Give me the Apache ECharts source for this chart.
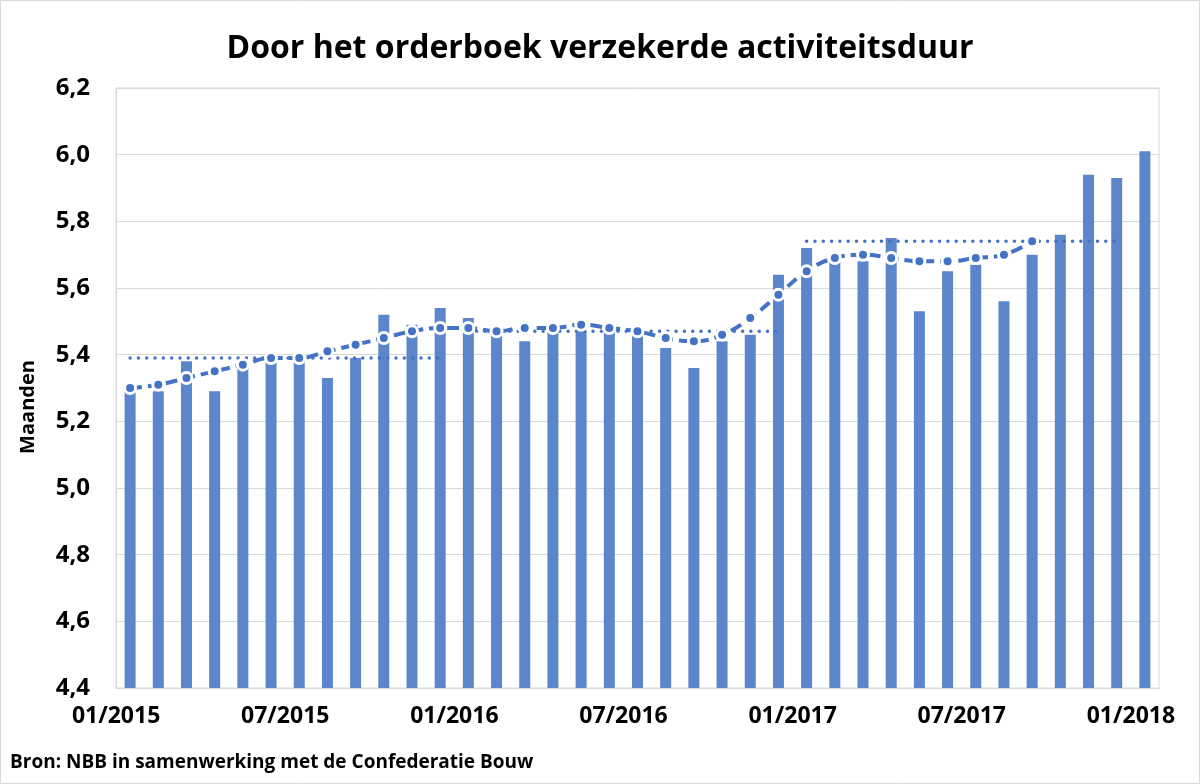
<!DOCTYPE html>
<html>
<head>
<meta charset="utf-8">
<title>Door het orderboek verzekerde activiteitsduur</title>
<script src="https://cdn.jsdelivr.net/npm/echarts@6/dist/echarts.min.js"></script>
<style>
  html, body { margin: 0; padding: 0; background: #fff; }
  #chart { width: 1200px; height: 784px; }
</style>
</head>
<body>
<div id="chart"></div>
<script>
// maanden 01/2015 - 01/2018
var months = [
  '01/2015', '02/2015', '03/2015', '04/2015', '05/2015', '06/2015',
  '07/2015', '08/2015', '09/2015', '10/2015', '11/2015', '12/2015',
  '01/2016', '02/2016', '03/2016', '04/2016', '05/2016', '06/2016',
  '07/2016', '08/2016', '09/2016', '10/2016', '11/2016', '12/2016',
  '01/2017', '02/2017', '03/2017', '04/2017', '05/2017', '06/2017',
  '07/2017', '08/2017', '09/2017', '10/2017', '11/2017', '12/2017',
  '01/2018'
];

// activiteitsduur (maanden), staven
var duur = [
  5.29, 5.29, 5.38, 5.29, 5.36, 5.40, 5.38, 5.33, 5.39, 5.52, 5.49, 5.54,
  5.51, 5.47, 5.44, 5.47, 5.47, 5.47, 5.46, 5.42, 5.36, 5.44, 5.46, 5.64,
  5.72, 5.68, 5.68, 5.75, 5.53, 5.65, 5.67, 5.56, 5.70, 5.76, 5.94, 5.93,
  6.01
];

// voortschrijdend gemiddelde (stippellijn met markers)
var gemiddelde = [
  5.30, 5.31, 5.33, 5.35, 5.37, 5.39, 5.39, 5.41, 5.43, 5.45, 5.47, 5.48,
  5.48, 5.47, 5.48, 5.48, 5.49, 5.48, 5.47, 5.45, 5.44, 5.46, 5.51, 5.58,
  5.65, 5.69, 5.70, 5.69, 5.68, 5.68, 5.69, 5.70, 5.74
];

// jaargemiddelden (gestippeld)
var jaren = ['2015', '2016', '2017'];
var jaarGemiddelde = [5.39, 5.47, 5.74];

var yTicks = { min: 4.4, max: 6.2, interval: 0.2 };

var blauw = '#4472c4';
var staafKleur = '#5b86cc';
var font = '"Open Sans", Lato, sans-serif';

// één lijnreeks per jaar, alleen gevuld in de maanden van dat jaar
function jaarReeks(i) {
  return months.map(function(m) {
    return m.slice(3) === jaren[i] ? jaarGemiddelde[i] : null;
  });
}

var chart = echarts.init(document.getElementById('chart'));

var series = [{
  name: 'Activiteitsduur',
  type: 'bar',
  data: duur,
  barWidth: 11,
  itemStyle: { color: staafKleur },
  z: 2
}];

jaren.forEach(function(j, i) {
  series.push({
    name: 'Gemiddelde ' + j,
    type: 'line',
    data: jaarReeks(i),
    showSymbol: false,
    symbol: 'none',
    lineStyle: {
      color: blauw,
      width: 3.5,
      type: [0.01, 8.3],
      cap: 'round'
    },
    z: 3
  });
});

series.push({
  name: 'Trend',
  type: 'line',
  data: gemiddelde,
  smooth: 0.45,
  symbol: 'circle',
  symbolSize: 11,
  itemStyle: {
    color: blauw,
    borderColor: '#ffffff',
    borderWidth: 3
  },
  lineStyle: {
    color: blauw,
    width: 4,
    type: [12, 6]
  },
  z: 4
});

chart.setOption({
  animation: false,
  backgroundColor: '#ffffff',
  title: {
    text: 'Door het orderboek verzekerde activiteitsduur',
    left: 'center',
    top: 28,
    textStyle: {
      fontFamily: font,
      fontWeight: 'bold',
      fontSize: 32,
      color: '#000'
    }
  },
  grid: {
    left: 116,
    right: 41,
    top: 88,
    bottom: 96,
    show: true,
    borderColor: '#d9d9d9',
    borderWidth: 1
  },
  xAxis: {
    type: 'category',
    data: months,
    boundaryGap: true,
    axisLine: { lineStyle: { color: '#d9d9d9' } },
    axisTick: {
      interval: 2,
      length: 5,
      lineStyle: { color: '#d9d9d9' }
    },
    axisLabel: {
      interval: 5,
      margin: 17,
      padding: [0, 28, 0, 0],
      fontFamily: font,
      fontWeight: 'bold',
      fontSize: 23,
      color: '#000'
    }
  },
  yAxis: {
    type: 'value',
    min: yTicks.min,
    max: yTicks.max,
    interval: yTicks.interval,
    axisLine: { show: true, lineStyle: { color: '#d9d9d9' } },
    splitLine: { lineStyle: { color: '#d9d9d9' } },
    axisLabel: {
      margin: 26,
      fontFamily: font,
      fontWeight: 'bold',
      fontSize: 24,
      color: '#000',
      formatter: function(v) {
        return v.toFixed(1).replace('.', ',');
      }
    }
  },
  graphic: [{
    type: 'text',
    x: 28,
    y: 407,
    rotation: Math.PI / 2,
    style: {
      text: 'Maanden',
      fontFamily: font,
      fontWeight: 'bold',
      fontSize: 20,
      fill: '#000',
      align: 'center',
      verticalAlign: 'middle'
    }
  }, {
    type: 'text',
    left: 10,
    top: 753,
    style: {
      text: 'Bron: NBB in samenwerking met de Confederatie Bouw',
      fontFamily: font,
      fontWeight: 'bold',
      fontSize: 19,
      fill: '#000'
    }
  }, {
    type: 'rect',
    shape: { x: 0.5, y: 0.5, width: 1199, height: 783 },
    style: { fill: 'none', stroke: '#d9d9d9', lineWidth: 1 },
    silent: true
  }],
  series: series
});
</script>
</body>
</html>
